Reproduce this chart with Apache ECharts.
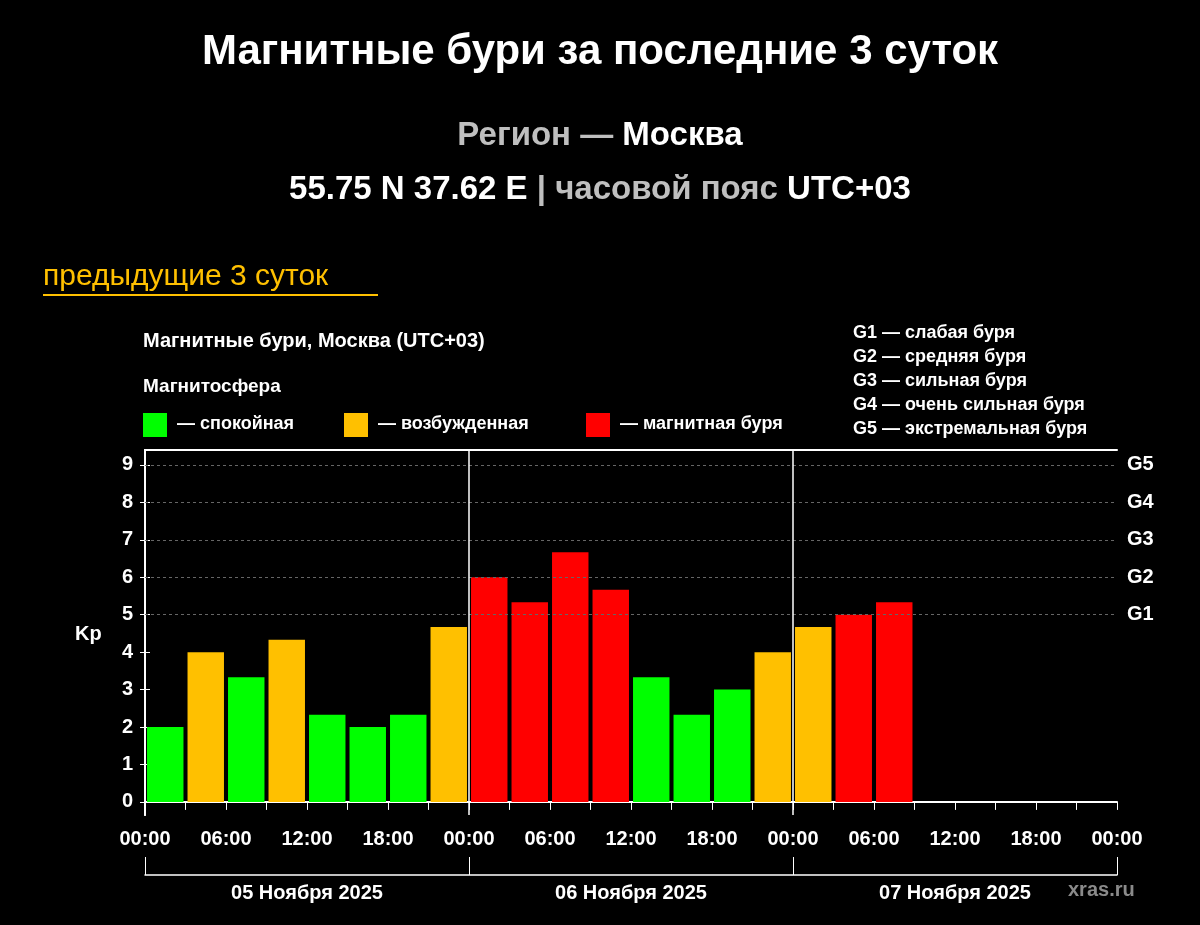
<!DOCTYPE html>
<html><head><meta charset="utf-8">
<script src="https://cdn.jsdelivr.net/npm/echarts@6/dist/echarts.min.js"></script>
<style>html,body{margin:0;background:#000}#c{width:1200px;height:925px}</style>
</head><body><div id="c"></div>
<script>
const kpValues = [2, 4, 3.33, 4.33, 2.33, 2, 2.33, 4.67, 6, 5.33, 6.67, 5.67, 3.33, 2.33, 3, 4, 4.67, 5, 5.33, null, null, null, null, null];
const hourTicks = [0, 6, 12, 18, 24, 30, 36, 42, 48, 54, 60, 66, 72];
const dayLabels = ['05 Ноября 2025', '06 Ноября 2025', '07 Ноября 2025'];
const kpTicks = [0, 1, 2, 3, 4, 5, 6, 7, 8, 9];
const gLevels = [5, 6, 7, 8, 9];
const gLegend = ['G1 — слабая буря', 'G2 — средняя буря', 'G3 — сильная буря', 'G4 — очень сильная буря', 'G5 — экстремальная буря'];

const GREEN = '#00FF00', ORANGE = '#FFC000', RED = '#FF0000';
function colorFor(v) { return v >= 5 ? RED : (v >= 4 ? ORANGE : GREEN); }
const cats = kpValues.map((_, i) => String(i));
const FONT = 'Liberation Sans, Arial, sans-serif';

const chart = echarts.init(document.getElementById('c'));
const legendItems = [['— спокойная', GREEN, 143], ['— возбужденная', ORANGE, 344], ['— магнитная буря', RED, 586]];
const graphics = [
  { type: 'text', left: 43, top: 262, style: { text: 'предыдущие 3 суток', fill: '#FFC000', font: '30px ' + FONT } },
  { type: 'rect', shape: { x: 43, y: 294, width: 335, height: 2 }, style: { fill: '#FFC000' } },
  { type: 'text', left: 143, top: 331, style: { text: 'Магнитные бури, Москва (UTC+03)', fill: '#fff', font: 'bold 20px ' + FONT } },
  { type: 'text', left: 143, top: 377, style: { text: 'Магнитосфера', fill: '#fff', font: 'bold 19px ' + FONT } },
  { type: 'text', left: 75, top: 624, style: { text: 'Kp', fill: '#fff', font: 'bold 20px ' + FONT } },
  { type: 'text', left: 1068, top: 880, style: { text: 'xras.ru', fill: '#8a8a8a', font: 'bold 20px ' + FONT } }
];
legendItems.forEach(([t, c, x]) => {
  graphics.push({ type: 'rect', shape: { x: x, y: 413, width: 24, height: 24 }, style: { fill: c } });
  graphics.push({ type: 'text', left: x + 34, top: 415, style: { text: t, fill: '#fff', font: 'bold 18px ' + FONT } });
});
gLegend.forEach((t, i) => {
  graphics.push({ type: 'text', left: 853, top: 324 + i * 24, style: { text: t, fill: '#fff', font: 'bold 18px ' + FONT } });
});

chart.setOption({
  backgroundColor: '#000',
  animation: false,
  title: [
    { text: 'Магнитные бури за последние 3 суток', left: 'center', top: 26, textStyle: { color: '#fff', fontSize: 42, fontWeight: 'bold', fontFamily: FONT } },
    { text: '{g|Регион — }{w|Москва}', left: 'center', top: 114, textStyle: { rich: { g: { color: '#bfbfbf', fontSize: 33, fontFamily: FONT }, w: { color: '#fff', fontSize: 33, fontWeight: 'bold', fontFamily: FONT } } } },
    { text: '{w|55.75 N 37.62 E }{g|| часовой пояс }{w|UTC+03}', left: 'center', top: 168, textStyle: { rich: { g: { color: '#bfbfbf', fontSize: 33, fontFamily: FONT }, w: { color: '#fff', fontSize: 33, fontWeight: 'bold', fontFamily: FONT } } } }
  ],
  graphic: graphics,
  grid: { left: 145, right: 83, top: 450, bottom: 110 },
  xAxis: [
    { type: 'category', data: cats, show: false, boundaryGap: true },
    { type: 'value', min: 0, max: 72, interval: 3, position: 'bottom',
      axisLine: { show: true, lineStyle: { color: '#fff', width: 2 } },
      axisTick: { show: true, length: 8, lineStyle: { color: '#fff' } },
      axisLabel: { color: '#fff', fontSize: 20, fontWeight: 'bold', fontFamily: FONT, margin: 14,
        formatter: v => hourTicks.includes(v) ? String(v % 24).padStart(2, '0') + ':00' : '' },
      splitLine: { show: false } },
    { type: 'category', data: dayLabels, position: 'bottom', offset: 60,
      axisLine: { show: true, lineStyle: { color: '#fff', width: 1.5 } },
      axisTick: { show: true, inside: true, length: 18, lineStyle: { color: '#fff' } },
      axisLabel: { color: '#fff', fontSize: 20, fontWeight: 'bold', fontFamily: FONT, margin: 8 } },
    { type: 'value', min: 0, max: 72, position: 'top', show: true,
      axisLine: { show: true, lineStyle: { color: '#fff', width: 2 } }, axisTick: { show: false }, axisLabel: { show: false }, splitLine: { show: false } }
  ],
  yAxis: [
    { type: 'value', min: -0.35, max: 9.4, position: 'left',
      axisLine: { show: true, lineStyle: { color: '#fff', width: 2 } },
      axisTick: { show: true, customValues: kpTicks, length: 5, lineStyle: { color: '#fff' } },
      axisLabel: { customValues: kpTicks, color: '#fff', fontSize: 20, fontWeight: 'bold', fontFamily: FONT, margin: 12 },
      splitLine: { show: false } },
    { type: 'value', min: -0.35, max: 9.4, position: 'right',
      axisLine: { show: true, lineStyle: { color: '#fff', width: 2 } },
      axisTick: { show: true, customValues: kpTicks, length: 5, lineStyle: { color: '#fff' } },
      axisLabel: { customValues: gLevels, formatter: v => 'G' + (v - 4), color: '#fff', fontSize: 20, fontWeight: 'bold', fontFamily: FONT, margin: 10 },
      splitLine: { show: false } }
  ],
  series: [
    { type: 'bar', xAxisIndex: 0, yAxisIndex: 0, barCategoryGap: '10%',
      data: kpValues.map(v => v == null ? null : { value: v, itemStyle: { color: colorFor(v) } }),
      markLine: { silent: true, symbol: 'none', label: { show: false },
        data: [5, 6, 7, 8, 9].map(y => ({ yAxis: y })), lineStyle: { color: '#666', type: [3, 3], width: 1 } } },
    { type: 'line', xAxisIndex: 1, yAxisIndex: 0, data: [], symbol: 'none',
      markLine: { silent: true, symbol: 'none', label: { show: false },
        data: [{ xAxis: 24 }, { xAxis: 48 }], lineStyle: { color: '#fff', type: 'solid', width: 1.5 } } }
  ]
});
</script></body></html>
